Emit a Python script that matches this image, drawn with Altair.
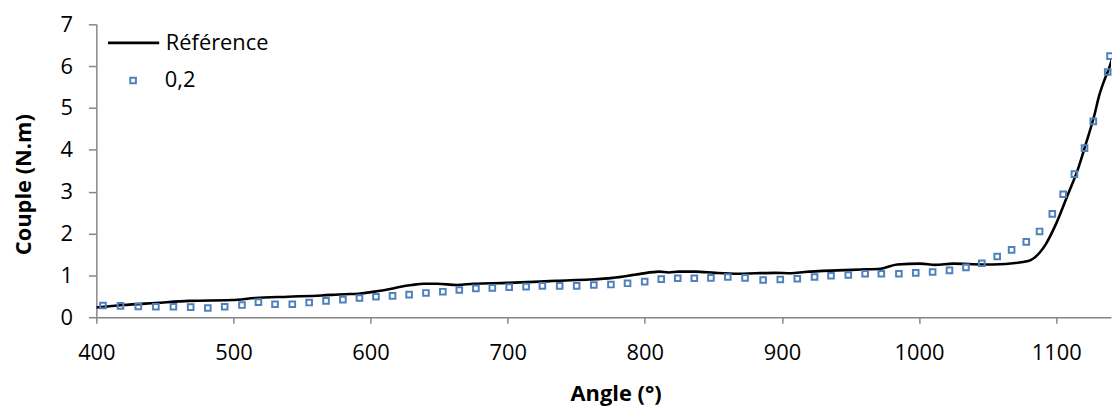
import altair as alt
import pandas as pd

# Reference curve (black line)
ref_angle = [400.0, 419.3, 443.4, 467.6, 498.9, 515.9, 540.0, 564.1, 581.0, 591.0,
             600.3, 612.4, 622.0, 630.0, 639.0, 648.6, 663.1, 675.2, 699.3, 723.4,
             735.5, 759.6, 776.5, 795.8, 810.3, 817.5, 824.8, 836.9, 851.3, 868.2,
             880.3, 894.8, 906.9, 916.5, 940.6, 957.6, 972.1, 984.1, 1001.0, 1011.9,
             1025.1, 1046.9, 1054.1, 1075.8, 1081.8, 1087.9, 1092.7, 1099.9, 1108.4, 1115.7,
             1122.2, 1127.8, 1131.4, 1135.2, 1138.6, 1141.0]
ref_couple = [0.23, 0.29, 0.34, 0.39, 0.41, 0.46, 0.49, 0.52, 0.55, 0.56,
              0.60, 0.66, 0.73, 0.77, 0.80, 0.80, 0.77, 0.80, 0.82, 0.85,
              0.87, 0.90, 0.94, 1.03, 1.09, 1.07, 1.09, 1.09, 1.06, 1.04,
              1.05, 1.06, 1.05, 1.08, 1.12, 1.14, 1.16, 1.26, 1.28, 1.25,
              1.28, 1.26, 1.26, 1.32, 1.37, 1.54, 1.76, 2.23, 2.92, 3.52,
              4.20, 4.82, 5.30, 5.67, 5.95, 6.20]

# Series "0,2" (square markers)
pts_angle = [404.8, 417.6, 430.6, 443.4, 456.2, 468.8, 481.3, 493.6, 506.2, 518.2,
             530.3, 542.9, 555.2, 567.5, 579.8, 591.9, 603.9, 616.0, 628.1, 640.4,
             652.7, 664.7, 676.8, 688.8, 701.1, 713.4, 725.3, 737.9, 750.3, 762.8,
             775.3, 787.4, 799.9, 812.0, 824.0, 836.1, 848.2, 860.5, 873.1, 886.3,
             898.8, 911.2, 923.8, 935.8, 948.4, 960.7, 972.5, 985.3, 997.6, 1009.9,
             1022.2, 1034.2, 1045.8, 1057.0, 1067.5, 1078.2, 1087.9, 1097.2, 1105.1, 1113.3,
             1120.7, 1127.1, 1137.6, 1139.3]
pts_couple = [0.28, 0.27, 0.26, 0.25, 0.25, 0.24, 0.22, 0.25, 0.29, 0.36,
              0.31, 0.31, 0.35, 0.39, 0.42, 0.46, 0.49, 0.51, 0.54, 0.58,
              0.61, 0.65, 0.69, 0.70, 0.72, 0.73, 0.75, 0.75, 0.75, 0.77,
              0.78, 0.81, 0.85, 0.91, 0.93, 0.93, 0.94, 0.96, 0.94, 0.89,
              0.90, 0.92, 0.96, 0.99, 1.01, 1.04, 1.04, 1.04, 1.06, 1.08,
              1.12, 1.19, 1.29, 1.45, 1.61, 1.80, 2.05, 2.47, 2.94, 3.42,
              4.04, 4.68, 5.86, 6.24]

x_ticks = [400, 500, 600, 700, 800, 900, 1000, 1100]
y_ticks = [0, 1, 2, 3, 4, 5, 6, 7]

FONT = "Open Sans"
AXC = "#868686"
BLUE = "#4F81BD"

line_df = pd.DataFrame({"angle": ref_angle, "couple": ref_couple, "s1": "Référence"})
pts_df = pd.DataFrame({"angle": pts_angle, "couple": pts_couple, "s2": "0,2"})

x_enc = alt.X("angle:Q",
              scale=alt.Scale(domain=[400, 1140], nice=False, zero=False),
              axis=alt.Axis(values=x_ticks, title="Angle (°)", tickSize=6,
                            labelBaseline="alphabetic", labelPadding=37,
                            labelFlush=False, format="d",
                            titleX=523, titleY=84, titleAlign="center",
                            titleBaseline="alphabetic"))
y_enc = alt.Y("couple:Q",
              scale=alt.Scale(domain=[0, 7], nice=False),
              axis=alt.Axis(values=y_ticks, title="Couple (N.m)", tickSize=8,
                            labelPadding=16, labelFlush=False, format="d",
                            titleX=-73, titleY=161, titleAngle=270,
                            titleAlign="center", titleBaseline="middle"))

line = alt.Chart(line_df).mark_line(
    color="black", strokeWidth=2.6, interpolate="monotone", clip=True
).encode(
    x=x_enc, y=y_enc,
    color=alt.Color("s1:N",
                    scale=alt.Scale(domain=["Référence"], range=["black"]),
                    legend=alt.Legend(title=None, orient="none", legendX=10, legendY=-8.8,
                                      symbolType="stroke", symbolSize=2663,
                                      symbolStrokeWidth=2.6, labelFont=FONT,
                                      labelFontSize=22, labelColor="black",
                                      labelOffset=5, padding=0))
)

pts = alt.Chart(pts_df).mark_point(
    shape="square", filled=False, size=32, strokeWidth=2, color=BLUE, opacity=1
).encode(
    x=x_enc, y=y_enc,
    shape=alt.Shape("s2:N",
                    scale=alt.Scale(domain=["0,2"], range=["square"]),
                    legend=alt.Legend(title=None, orient="none", legendX=26, legendY=45.6,
                                      symbolSize=32, symbolStrokeWidth=2,
                                      symbolStrokeColor=BLUE, symbolOpacity=1,
                                      labelFont=FONT,
                                      labelFontSize=22, labelColor="black",
                                      labelOffset=21, padding=0))
)

chart = alt.layer(line, pts).properties(
    width=1022, height=295,
    autosize=alt.AutoSizeParams(type="none"),
    padding={"left": 89, "top": 15, "right": 1, "bottom": 89},
).configure_view(stroke=None).configure_axis(
    grid=False, domainColor=AXC, tickColor=AXC, domainWidth=1.5, tickWidth=1.5,
    labelFont=FONT, labelFontSize=22, labelColor="black",
    titleFont=FONT, titleFontSize=22, titleFontWeight="bold", titleColor="black",
)

chart.save("out.html", embed_options={"renderer": "svg", "actions": False})
